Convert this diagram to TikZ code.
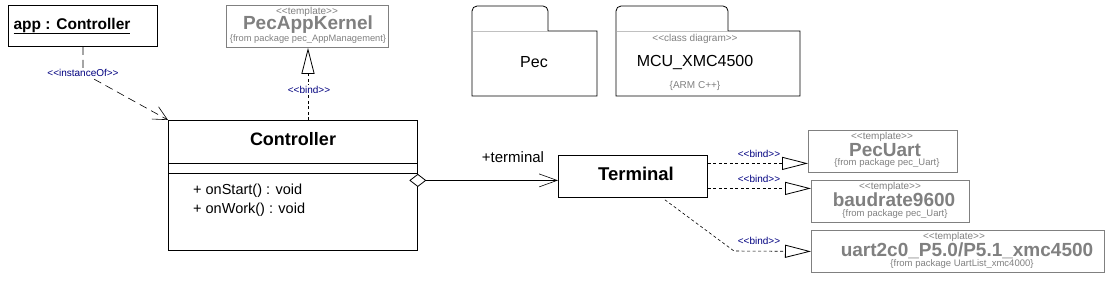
\documentclass[tikz,border=0pt]{standalone}
\usepackage{fontspec}
\setmainfont{Liberation Sans}
\usetikzlibrary{arrows.meta}
\definecolor{tgray}{RGB}{128,128,128}
\definecolor{lgray}{RGB}{192,192,192}
\definecolor{lnavy}{RGB}{0,0,128}
\newcommand\stOpen{<\kern0pt<}
\newcommand\stClose{>\kern0pt>}
\tikzset{
  box/.style={draw=black, line width=0.8pt, anchor=north west, inner sep=0pt},
  tbox/.style={draw=tgray, line width=0.8pt, anchor=north west, inner sep=0pt},
  txt/.style={inner sep=0pt, anchor=center},
  from/.style={txt, font=\fontsize{9.3}{10}\selectfont, text=tgray},
  stereo/.style={txt, font=\fontsize{10}{11}\selectfont, text=tgray},
  tname/.style={txt, font=\bfseries\fontsize{19}{20}\selectfont, text=tgray},
  cname/.style={txt, font=\bfseries\fontsize{18}{20}\selectfont},
  lbl/.style={txt, font=\fontsize{10}{11}\selectfont, text=lnavy},
  bindline/.style={draw, line width=0.6pt, dash pattern=on 3pt off 2.5pt,
    -{Triangle[open, length=26pt, width=13pt, line width=0.8pt]}},
  pkg/.style={draw, line width=0.8pt},
}
\begin{document}
\begin{tikzpicture}[x=1pt, y=-1pt]
\useasboundingbox (0,0) rectangle (1113,282);

% app : Controller
\node[box, minimum width=149pt, minimum height=41pt] (app) at (8,5) {};
\node[txt, font=\bfseries\fontsize{15.5}{17}\selectfont] (appt) at (72,26) {\underline{app : Controller}};

% PecAppKernel
\node[tbox, minimum width=162pt, minimum height=42pt] (pak) at (226,5) {};
\node[stereo] (pak1) at (307,12) {\stOpen template\stClose};
\node[tname] (pak2) at (308,25) {PecAppKernel};
\node[from] (pak3) at (308,39.5) {\{from package pec\_AppManagement\}};

% Controller class
\node[box, minimum width=249pt, minimum height=130pt] (ctrl) at (168,120) {};
\draw[line width=0.8pt] (168,163) -- (417,163) (168,173) -- (417,173);
\node[cname] (ctrlt) at (293,139) {Controller};
\node[txt, anchor=west, font=\fontsize{14.5}{16}\selectfont] (op1) at (193,191) {+ onStart() : void};
\node[txt, anchor=west, font=\fontsize{14.5}{16}\selectfont] (op2) at (193,210) {+ onWork() : void};

% Terminal
\node[box, minimum width=149pt, minimum height=42pt] (term) at (558,155) {};
\node[cname, font=\bfseries\fontsize{18.5}{20}\selectfont] (termt) at (636,174) {Terminal};

% Packages
\draw[pkg] (472,96) -- (472,11) arc (180:270:5) -- (543,6) arc (270:360:5) -- (548,31) -- (597,31) -- (597,96) -- cycle;
\draw[lgray, line width=0.8pt] (472.5,31) -- (547.5,31);
\node[txt, font=\fontsize{16}{18}\selectfont] (pec) at (534,62) {Pec};

\draw[pkg] (616,96) -- (616,11) arc (180:270:5) -- (723,6) arc (270:360:5) -- (728,31) -- (800,31) -- (800,96) -- cycle;
\draw[lgray, line width=0.8pt] (616.5,31) -- (727.5,31);
\node[stereo] (mcu1) at (695,39) {\stOpen class diagram\stClose};
\node[txt, font=\fontsize{16}{18}\selectfont] (mcu2) at (695,62) {MCU\_XMC4500};
\node[stereo] (mcu3) at (695,86) {\{ARM C++\}};

% Template boxes right
\node[tbox, minimum width=149pt, minimum height=42pt] (pu) at (808,130) {};
\node[stereo] (pu1) at (882,137) {\stOpen template\stClose};
\node[tname] (pu2) at (885,150) {PecUart};
\node[from, font=\fontsize{9.5}{10}\selectfont] (pu3) at (887,163.5) {\{from package pec\_Uart\}};

\node[tbox, minimum width=158pt, minimum height=42pt] (bd) at (811,180) {};
\node[stereo] (bd1) at (890,187) {\stOpen template\stClose};
\node[tname] (bd2) at (894,200) {baudrate9600};
\node[from, font=\fontsize{9.5}{10}\selectfont] (bd3) at (895,214.5) {\{from package pec\_Uart\}};

\node[tbox, minimum width=293pt, minimum height=42pt] (ua) at (811,230) {};
\node[stereo] (ua1) at (954,237) {\stOpen template\stClose};
\node[tname] (ua2) at (967,250.5) {uart2c0\_P5.0/P5.1\_xmc4500};
\node[from, font=\fontsize{9.5}{10}\selectfont] (ua3) at (962,264.5) {\{from package UartList\_xmc4000\}};

% instanceOf
\coordinate (iobend) at (83,73);
\draw[line width=0.6pt, dash pattern=on 8pt off 5pt,
  -{Straight Barb[length=14pt, width=14pt, line width=0.6pt]}]
  (app.south -| iobend) -- (iobend) -- (ctrl.north west);
\node[lbl, fill=white, inner sep=1.5pt] (iol) at (83,73) {\stOpen instanceOf\stClose};

% bind to PecAppKernel
\draw[bindline] (ctrl.north -| 308,0) -- (pak.south -| 308,0);
\node[lbl, fill=white, inner sep=1.5pt] (b0) at (309,90) {\stOpen bind\stClose};

% aggregation
\draw[line width=0.8pt,
  {Diamond[fill=white, length=17pt, width=13pt, line width=0.8pt]}-{Straight Barb[length=18pt, width=13pt, line width=0.6pt]}]
  ([xshift=-8.5pt, yshift=5pt]ctrl.east) -- ([yshift=-4pt]term.west);
\node[txt, font=\fontsize{15}{17}\selectfont] (termrole) at (513,157) {+terminal};

% binds from Terminal
\draw[bindline] ([yshift=13pt]term.east) -- ([yshift=13pt]term.east -| pu.west);
\node[lbl] (b1) at (759,153.5) {\stOpen bind\stClose};
\draw[bindline] ([yshift=-12pt]term.east) -- ([yshift=-12pt]term.east -| bd.west);
\node[lbl] (b2) at (759,178.5) {\stOpen bind\stClose};
\coordinate (tb) at (734,251);
\draw[bindline] ([xshift=32pt, yshift=-2pt]term.south) -- (tb) -- (ua.west);
\node[lbl] (b3) at (759,240.5) {\stOpen bind\stClose};
\end{tikzpicture}
\end{document}
